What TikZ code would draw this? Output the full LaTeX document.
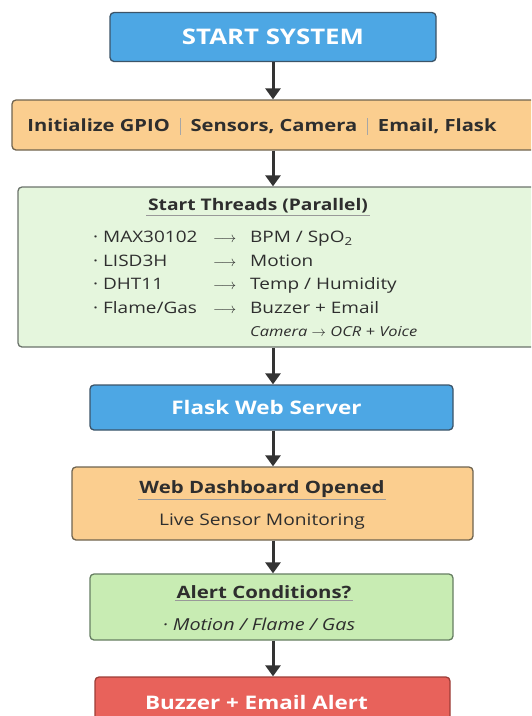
\documentclass[tikz,border=0pt]{standalone}
\usepackage{fontspec}
\setmainfont{Open Sans}[FakeStretch=1.2]
\usetikzlibrary{arrows.meta,positioning}

\definecolor{startblue}{HTML}{4DA7E4}
\definecolor{blueline}{HTML}{3C5468}
\definecolor{initorange}{HTML}{FBCE8F}
\definecolor{orangeline}{HTML}{6F6450}
\definecolor{threadgreen}{HTML}{E5F6DD}
\definecolor{threadline}{HTML}{6B736B}
\definecolor{alertgreen}{HTML}{C8ECB3}
\definecolor{alertline}{HTML}{667E62}
\definecolor{buzzred}{HTML}{E8625B}
\definecolor{redline}{HTML}{9C3D37}
\definecolor{darktext}{HTML}{2E2E2E}
\definecolor{arrowgray}{HTML}{333333}

\begin{document}
\begin{tikzpicture}[x=1pt, y=-1pt,
    box/.style={draw=#1, rounded corners=4pt, line width=1.3pt, inner sep=0pt},
    flow/.style={draw=arrowgray, line width=3pt, -{Triangle[width=15pt,length=11pt]}},
    title/.style={text=darktext, font=\bfseries\fontsize{17}{20}\selectfont, inner sep=1.5pt},
    uline/.style={draw=black!40, line width=1pt}]

  \useasboundingbox (0,0) rectangle (531,716);
  \clip (0,0) rectangle (531,716);

  % start
  \node[box=blueline, fill=startblue, minimum width=326pt, minimum height=49pt,
        text=white, font=\bfseries\fontsize{21.5}{24}\selectfont] (start) at (273,37) {START SYSTEM};

  % init
  \node[box=orangeline, fill=initorange, minimum width=533pt, minimum height=50pt] (init) at (278.5,125) {};
  \node[text=darktext, font=\bfseries\fontsize{16.8}{18}\selectfont] (initText) at (262,126)
    {Initialize GPIO\hspace{10pt}\textcolor{black!35}{\rule[-3pt]{0.7pt}{17pt}}\hspace{10pt}Sensors, Camera\hspace{10pt}\textcolor{black!35}{\rule[-3pt]{0.7pt}{17pt}}\hspace{10pt}Email, Flask};

  % threads
  \node[box=threadline, fill=threadgreen, minimum width=527pt, minimum height=160pt] (threads) at (281.5,267) {};
  \node[title, font=\bfseries\fontsize{16}{19}\selectfont] (threadsTitle) at (258,206) {Start Threads (Parallel)};
  \draw[uline] (threadsTitle.south west) -- (threadsTitle.south east);
  \node[anchor=north west, inner sep=0pt, text=darktext, font=\fontsize{15.8}{23.5}\selectfont] (threadsList) at (93,226)
    {\begin{tabular}{@{}p{120pt}@{}p{37pt}@{}l@{}}
       · MAX30102 & $\longrightarrow$ & BPM / SpO\textsubscript{2} \\
       · LISD3H & $\longrightarrow$ & Motion \\
       · DHT11 & $\longrightarrow$ & Temp / Humidity \\
       · Flame/Gas & $\longrightarrow$ & Buzzer + Email \\
       & & {\fontsize{13.7}{15}\selectfont\itshape Camera $\rightarrow$ OCR + Voice}
     \end{tabular}};

  % flask
  \node[box=blueline, fill=startblue, minimum width=363pt, minimum height=45pt,
        text=white, font=\bfseries\fontsize{18.7}{21}\selectfont] (flask) at (271.5,407.5) {Flask Web Server\hspace*{10pt}};

  % dashboard
  \node[box=orangeline, fill=initorange, minimum width=401pt, minimum height=73pt] (dash) at (272.5,503.5) {};
  \node[title] (dashTitle) at (262,489) {Web Dashboard Opened};
  \draw[uline] (dashTitle.south west) -- (dashTitle.south east);
  \node[text=darktext, font=\fontsize{16}{18}\selectfont] (dashSub) at (262,522) {Live Sensor Monitoring};

  % alert
  \node[box=alertline, fill=alertgreen, minimum width=363pt, minimum height=66pt] (alert) at (271.5,607) {};
  \node[title] (alertTitle) at (264,592) {Alert Conditions?};
  \draw[uline] (alertTitle.south west) -- (alertTitle.south east);
  \node[text=darktext, font=\itshape\fontsize{16.5}{18}\selectfont] (alertSub) at (259,624) {· Motion / Flame / Gas};

  % buzzer
  \node[box=redline, fill=buzzred, minimum width=355pt, minimum height=56pt,
        text=white, font=\bfseries\fontsize{18.7}{21}\selectfont] (buzzer) at (272.5,705) {\raisebox{5pt}{Buzzer + Email Alert}\hspace*{32pt}};

  \draw[flow] (start.south) -- (start.south |- init.north);
  \draw[flow] (start.south |- init.south) -- (start.south |- threads.north);
  \draw[flow] (start.south |- threads.south) -- (start.south |- flask.north);
  \draw[flow] (start.south |- flask.south) -- (start.south |- dash.north);
  \draw[flow] (start.south |- dash.south) -- (start.south |- alert.north);
  \draw[flow] (start.south |- alert.south) -- (start.south |- buzzer.north);

\end{tikzpicture}
\end{document}
